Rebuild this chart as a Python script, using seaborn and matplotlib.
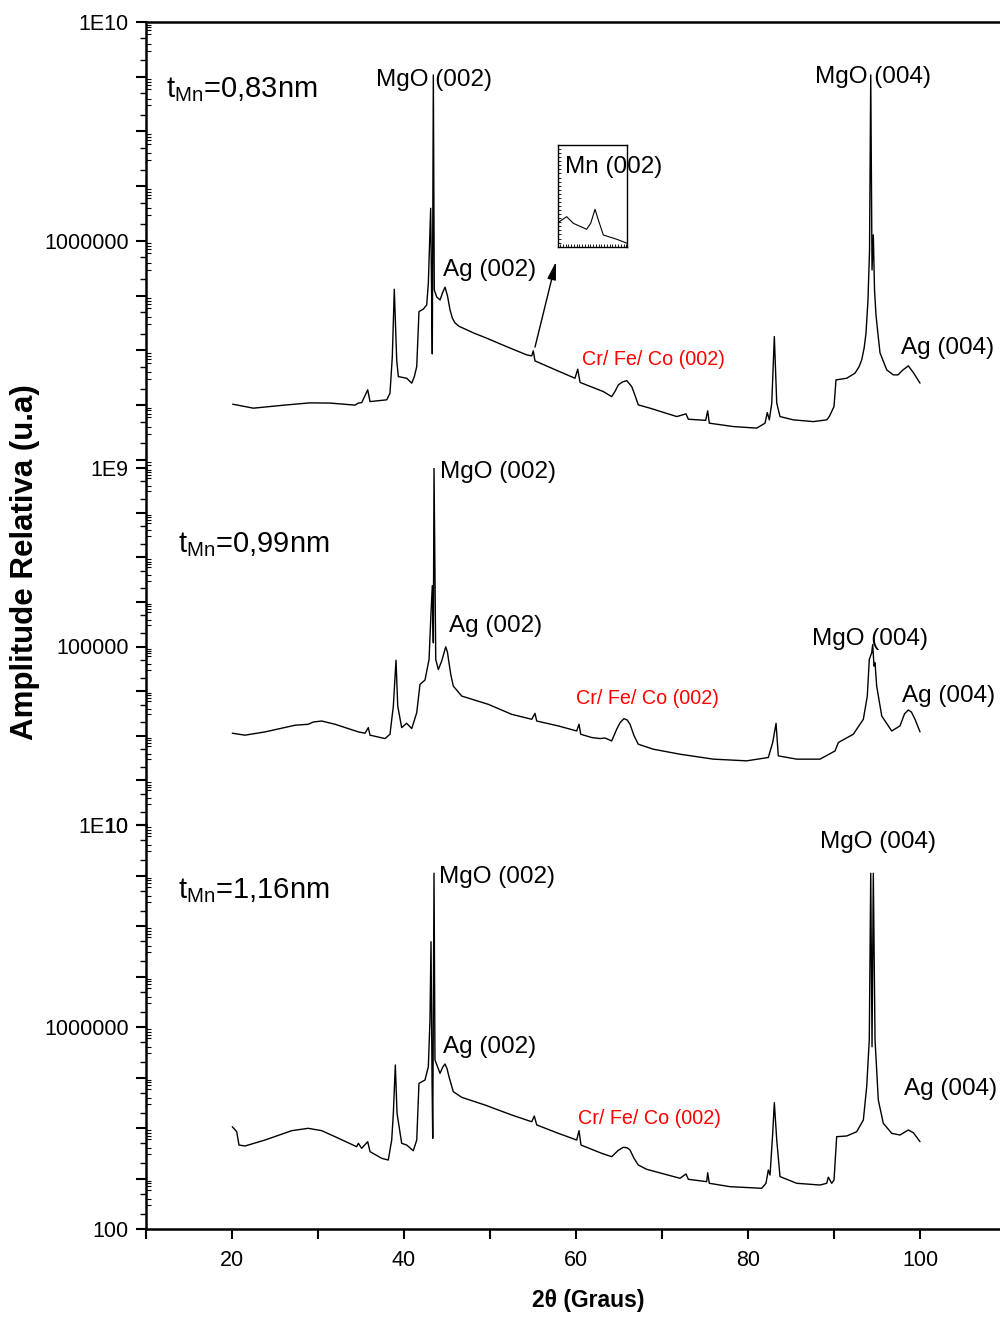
import numpy as np
import matplotlib
matplotlib.use("Agg")
import matplotlib.pyplot as plt
import matplotlib.ticker as mticker
import seaborn as sns

sns.set_theme(style="white")
plt.rcParams["font.family"] = ["Liberation Sans", "DejaVu Sans"]
plt.rcParams["mathtext.fontset"] = "custom"
plt.rcParams["mathtext.rm"] = "Liberation Sans"
plt.rcParams["mathtext.it"] = "Liberation Sans:italic"
plt.rcParams["mathtext.bf"] = "Liberation Sans:bold"
for key in ("text.color", "axes.labelcolor", "xtick.color", "ytick.color", "axes.edgecolor"):
    plt.rcParams[key] = "black"

# --- XRD scans (2theta in degrees, intensity in arbitrary units) ---
two_theta_083 = [20.08, 22.48, 26.36, 29.07, 31.40, 34.30, 34.69, 35.08, 35.78, 36.05,
                 37.99, 38.37, 38.64, 38.87, 39.15, 39.34, 40.31, 40.90, 41.20, 41.48,
                 41.74, 42.24, 42.64, 42.83, 43.10, 43.22, 43.29, 43.41, 43.52, 43.80,
                 44.19, 44.50, 44.77, 45.05, 45.35, 45.62, 45.93, 46.40, 46.90, 48.06,
                 49.62, 51.94, 54.27, 54.85, 55.03, 55.23, 57.36, 59.88, 60.20, 60.47,
                 63.17, 64.15, 64.55, 64.92, 65.40, 65.90, 66.48, 66.90, 67.24, 68.60,
                 71.71, 72.79, 73.06, 75.08, 75.31, 75.50, 78.29, 81.01, 81.98, 82.24,
                 82.48, 82.76, 83.06, 83.34, 83.72, 85.27, 87.59, 89.15, 89.45, 90.00,
                 90.23, 91.48, 92.44, 92.90, 93.22, 93.50, 93.72, 93.95, 94.13, 94.27,
                 94.42, 94.57, 94.71, 94.88, 95.12, 95.35, 96.13, 96.90, 97.44, 98.02,
                 98.64, 99.22, 100.0]
counts_083 = [1040, 880, 1010, 1100, 1090, 1000, 1090, 1110, 1900, 1160,
              1250, 1650, 7700, 1.31e5, 6700, 3320, 3100, 2520, 3320, 5060,
              5.12e4, 5.66e4, 6.78e4, 1.69e5, 3.95e6, 8.36e4, 8630, 1.08e9, 1.27e5, 9.48e4,
              8.36e4, 1.15e5, 1.43e5, 1.0e5, 5.5e4, 3.9e4, 3.18e4, 2.75e4, 2.54e4, 2.09e4,
              1.67e4, 1.17e4, 8280, 7940, 9790, 6430, 4590, 3100, 4540, 2600,
              1770, 1430, 1800, 2340, 2650, 2800, 2180, 1450, 1010, 880,
              618, 692, 553, 527, 785, 468, 406, 380, 468, 731,
              538, 1090, 1.79e4, 1090, 618, 538, 500, 538, 618, 942,
              2890, 3100, 3840, 5000, 6700, 1.1e4, 2.06e4, 8.36e4, 6.85e5, 1.08e9,
              2.95e5, 1.29e6, 1.27e5, 4.45e4, 1.92e4, 9000, 4400, 3570, 3570, 4400,
              5210, 3940, 2520]

two_theta_099 = [20.03, 21.51, 23.84, 27.33, 28.87, 29.45, 30.43, 31.98, 34.69, 35.47,
                 35.85, 36.05, 37.79, 38.37, 38.76, 39.07, 39.27, 39.73, 40.31, 40.90,
                 41.48, 41.86, 42.44, 42.91, 43.14, 43.29, 43.41, 43.49, 43.69, 43.99,
                 44.38, 44.85, 45.05, 45.23, 45.45, 45.73, 46.71, 49.80, 52.52, 54.85,
                 55.23, 55.43, 57.94, 60.08, 60.35, 60.55, 61.83, 62.79, 63.37, 64.15,
                 64.73, 65.15, 65.58, 65.95, 66.28, 66.75, 67.24, 68.99, 72.09, 75.97,
                 79.85, 82.36, 82.87, 83.26, 83.52, 85.66, 88.37, 90.12, 90.50, 92.24,
                 93.41, 93.87, 94.10, 94.38, 94.50, 94.65, 94.77, 94.96, 95.55, 96.71,
                 97.67, 98.20, 98.64, 99.00, 99.42, 100.0]
counts_099 = [1140, 1030, 1220, 1720, 1810, 2030, 2140, 1810, 1220, 1140,
              1520, 1030, 865, 1080, 4630, 4.94e4, 4630, 1520, 1900, 1450,
              3300, 1.42e4, 1.77e4, 5.12e4, 5.66e5, 2.31e6, 1.21e5, 1.0e9, 5.12e4, 3.06e4,
              4.7e4, 9.84e4, 7.5e4, 4.32e4, 2.3e4, 1.3e4, 7750, 5060, 3020, 2340,
              3180, 2140, 1660, 1280, 1810, 1080, 912, 865, 890, 766,
              1400, 2000, 2420, 2250, 1810, 1000, 646, 499, 386, 299,
              274, 326, 705, 1900, 354, 299, 299, 457, 705, 1080,
              2340, 7750, 5.12e4, 7.23e4, 1.11e5, 3.63e4, 4.32e4, 1.3e4, 2770, 1280,
              1660, 3100, 3780, 3400, 2340, 1220]

two_theta_116 = [20.03, 20.55, 20.81, 21.51, 23.84, 26.94, 28.87, 30.43, 31.98, 34.50,
                 34.69, 35.08, 35.78, 36.05, 37.41, 38.17, 38.57, 38.76, 38.99, 39.19,
                 39.73, 40.31, 41.08, 41.48, 41.74, 42.44, 42.83, 43.02, 43.14, 43.26,
                 43.34, 43.49, 43.60, 44.19, 44.50, 44.77, 45.00, 45.23, 45.73, 46.71,
                 49.42, 52.52, 54.85, 55.15, 55.43, 57.94, 60.08, 60.35, 60.58, 62.99,
                 64.15, 64.90, 65.50, 65.95, 66.28, 66.75, 67.24, 68.22, 72.09, 72.79,
                 73.06, 75.20, 75.31, 75.50, 77.91, 81.59, 82.09, 82.36, 82.56, 82.87,
                 83.06, 83.34, 83.72, 85.66, 88.37, 89.15, 89.34, 89.73, 90.00, 90.31,
                 91.48, 92.64, 93.41, 93.80, 94.10, 94.27, 94.42, 94.57, 94.77, 95.15,
                 95.73, 96.71, 97.67, 98.64, 99.22, 100.0]
counts_116 = [1.06e4, 8450, 4600, 4400, 5780, 8850, 9860, 8850, 6730, 4260,
              4980, 3960, 5360, 3400, 2510, 2320, 5780, 1.95e4, 1.77e5, 1.95e4,
              4980, 4600, 3550, 5780, 7.67e4, 8.91e4, 1.64e5, 1.38e6, 4.89e7, 8.91e4,
              6250, 1.11e9, 2.22e5, 1.21e5, 1.6e5, 1.85e5, 1.5e5, 1.04e5, 5.24e4, 4.05e4,
              2.85e4, 1.81e4, 1.33e4, 1.73e4, 1.15e4, 7850, 5780, 8850, 4600, 3150,
              2700, 3600, 4150, 4050, 3670, 2500, 1850, 1520, 1010, 1230,
              964, 865, 1300, 804, 689, 640, 804, 1470, 1170, 7850,
              3.17e4, 5780, 1090, 804, 743, 804, 1060, 804, 934, 6730,
              6950, 8450, 1.44e4, 6.58e4, 5.53e5, 1.11e9, 4.07e5, 1.11e9, 5.53e5, 3.58e4,
              1.24e4, 7850, 7260, 9120, 8070, 5360]

# close-up of the Mn (002) reflection (linear intensity scale)
inset_two_theta = [52.08, 52.67, 53.20, 54.26, 54.58, 54.93, 55.19, 55.59, 56.66, 57.50]
inset_counts = [24.6, 29.5, 23.0, 17.1, 23.0, 36.8, 26.3, 11.5, 7.3, 3.3]

sample_labels = ["0,83nm", "0,99nm", "1,16nm"]
y_tick_text = [
    {6: "1000000", 10: "1E10"},
    {1: "10", 5: "100000", 9: "1E9"},
    {2: "100", 6: "1000000", 10: "1E10"},
]
x_major = [20, 40, 60, 80, 100]
x_minor = [10, 30, 50, 70, 90, 110]

# --- layout: three stacked log panels sharing one 2theta axis ---
W, H = 1000, 1318
fig = plt.figure(figsize=(W / 100, H / 100), dpi=100)


def box(top_px, bottom_px, left_px=146, right_px=1000):
    return [left_px / W, 1 - bottom_px / H, (right_px - left_px) / W, (bottom_px - top_px) / H]


ax_top = fig.add_axes(box(22, 468))
ax_mid = fig.add_axes(box(468, 825))
ax_bot = fig.add_axes(box(825, 1229))
panels = [
    (ax_top, two_theta_083, counts_083, (71, 1e10)),
    (ax_mid, two_theta_099, counts_099, (10, 1e9)),
    (ax_bot, two_theta_116, counts_116, (100, 1e10)),
]

TICK_FS = 15.5
for i, (ax, tt, cc, ylim) in enumerate(panels):
    sns.lineplot(x=tt, y=cc, ax=ax, color="black", linewidth=1.0,
                 estimator=None, sort=False)
    ax.set_yscale("log")
    ax.set_ylim(*ylim)
    ax.set_xlim(10, 109.3)
    ax.set_facecolor("none")
    ax.set_xlabel("")
    ax.set_ylabel("")
    for side in ("left", "right", "top", "bottom"):
        ax.spines[side].set_color("black")
        ax.spines[side].set_linewidth(1.8)
    ax.spines["right"].set_visible(False)
    ax.spines["top"].set_visible(i == 0)
    ax.spines["bottom"].set_visible(i == 2)

    kmin = int(np.ceil(np.log10(ylim[0]) - 1e-9))
    kmax = int(np.floor(np.log10(ylim[1]) + 1e-9))
    labels = y_tick_text[i]
    ax.yaxis.set_major_locator(mticker.FixedLocator([10.0 ** k for k in range(kmin, kmax + 1)]))
    ax.yaxis.set_major_formatter(mticker.FuncFormatter(
        lambda v, p, lab=labels: lab.get(int(round(np.log10(v))), "")))
    ax.yaxis.set_minor_locator(mticker.LogLocator(base=10, subs=(3, 4, 6, 7, 8, 9), numticks=60))
    ax.tick_params(axis="y", which="major", direction="out", length=7.5, width=1.5,
                   labelsize=TICK_FS, pad=5, left=True, right=False)
    ax.tick_params(axis="y", which="minor", direction="in", length=3.5, width=0.8,
                   left=True, right=False)

    # the 2x and 5x sub-decade marks sit outside the spine
    sec = ax.secondary_yaxis("left")
    sub = [m * 10.0 ** k for k in range(kmin - 1, kmax + 1) for m in (2, 5)
           if ylim[0] <= m * 10.0 ** k <= ylim[1]]
    sec.set_yticks(sub)
    sec.yaxis.set_minor_locator(mticker.NullLocator())
    sec.tick_params(axis="y", direction="out", length=4.5, width=1.0, labelleft=False)
    sec.spines["left"].set_visible(False)

    if i < 2:
        ax.tick_params(axis="x", which="both", bottom=False, top=False, labelbottom=False)
    else:
        ax.xaxis.set_major_locator(mticker.FixedLocator(x_major))
        ax.xaxis.set_minor_locator(mticker.FixedLocator(x_minor))
        ax.tick_params(axis="x", which="both", direction="out", length=7, width=1.5,
                       bottom=True, top=False)
        ax.tick_params(axis="x", which="major", labelsize=TICK_FS, pad=8)

# --- peak annotations ---
ANN_FS = 17.5
RED_FS = 14.2
SAMPLE_FS = 21
label_pos = [
    dict(sample=(12.33, 8.76), mgo2=(43.49, 8.94, "center"), ag2=(44.53, 5.47),
         cr=(60.70, 3.83), mgo4=(94.59, 9.00, "center"), ag4=(97.79, 4.05)),
    dict(sample=(13.72, 7.28), mgo2=(44.19, 8.91, "left"), ag2=(45.23, 5.45),
         cr=(60.00, 3.84), mgo4=(87.44, 5.16, "left"), ag4=(97.91, 3.88)),
    dict(sample=(13.72, 8.71), mgo2=(44.07, 8.97, "left"), ag2=(44.53, 5.60),
         cr=(60.23, 4.18), mgo4=(88.37, 9.66, "left"), ag4=(98.14, 4.77)),
]
for (ax, _, _, _), pos, name in zip(panels, label_pos, sample_labels):
    sx, sy = pos["sample"]
    ax.text(sx, 10 ** sy, r"$\mathrm{t}_{\mathrm{Mn}}$=" + name, fontsize=SAMPLE_FS,
            ha="left", va="center")
    x, y, ha = pos["mgo2"]
    ax.text(x, 10 ** y, "MgO (002)", fontsize=ANN_FS, ha=ha, va="center")
    x, y = pos["ag2"]
    ax.text(x, 10 ** y, "Ag (002)", fontsize=ANN_FS, ha="left", va="center")
    x, y = pos["cr"]
    ax.text(x, 10 ** y, "Cr/ Fe/ Co (002)", fontsize=RED_FS, ha="left", va="center",
            color="#ff0000")
    x, y, ha = pos["mgo4"]
    ax.text(x, 10 ** y, "MgO (004)", fontsize=ANN_FS, ha=ha, va="center")
    x, y = pos["ag4"]
    ax.text(x, 10 ** y, "Ag (004)", fontsize=ANN_FS, ha="left", va="center")

# arrow from the Mn (002) reflection to its close-up
ax_top.annotate("", xy=(57.67, 10 ** 5.62), xytext=(55.23, 10 ** 4.06),
                arrowprops=dict(arrowstyle="-|>,head_length=0.9,head_width=0.22",
                                color="black", lw=1.0, shrinkA=0, shrinkB=0))

ins = fig.add_axes(box(145, 246.7, 558.3, 627.3))
sns.lineplot(x=inset_two_theta, y=inset_counts, ax=ins, color="black", linewidth=0.8,
             estimator=None, sort=False)
ins.set_xlim(52, 57.5)
ins.set_ylim(0, 100)
ins.set_xlabel("")
ins.set_ylabel("")
ins.set_facecolor("none")
for side in ins.spines.values():
    side.set_color("black")
    side.set_linewidth(1.0)
ins.xaxis.set_major_locator(mticker.NullLocator())
ins.yaxis.set_major_locator(mticker.NullLocator())
ins.xaxis.set_minor_locator(mticker.MultipleLocator(0.22))
ins.yaxis.set_minor_locator(mticker.MultipleLocator(4))
ins.tick_params(which="minor", direction="in", length=2, width=0.6,
                bottom=True, left=True, top=False, right=False)
fig.text(565 / W, 1 - 167 / H, "Mn (002)", fontsize=ANN_FS, ha="left", va="center",
         zorder=10)

# axis titles
fig.text(588 / W, 1 - 1301 / H, "2θ (Graus)", fontsize=16.5, fontweight="bold",
         ha="center", va="center")
fig.text(25 / W, 1 - 562 / H, "Amplitude Relativa (u.a)", fontsize=22.5, fontweight="bold",
         rotation=90, ha="center", va="center")

fig.savefig("out.png", dpi=100, facecolor="white")
